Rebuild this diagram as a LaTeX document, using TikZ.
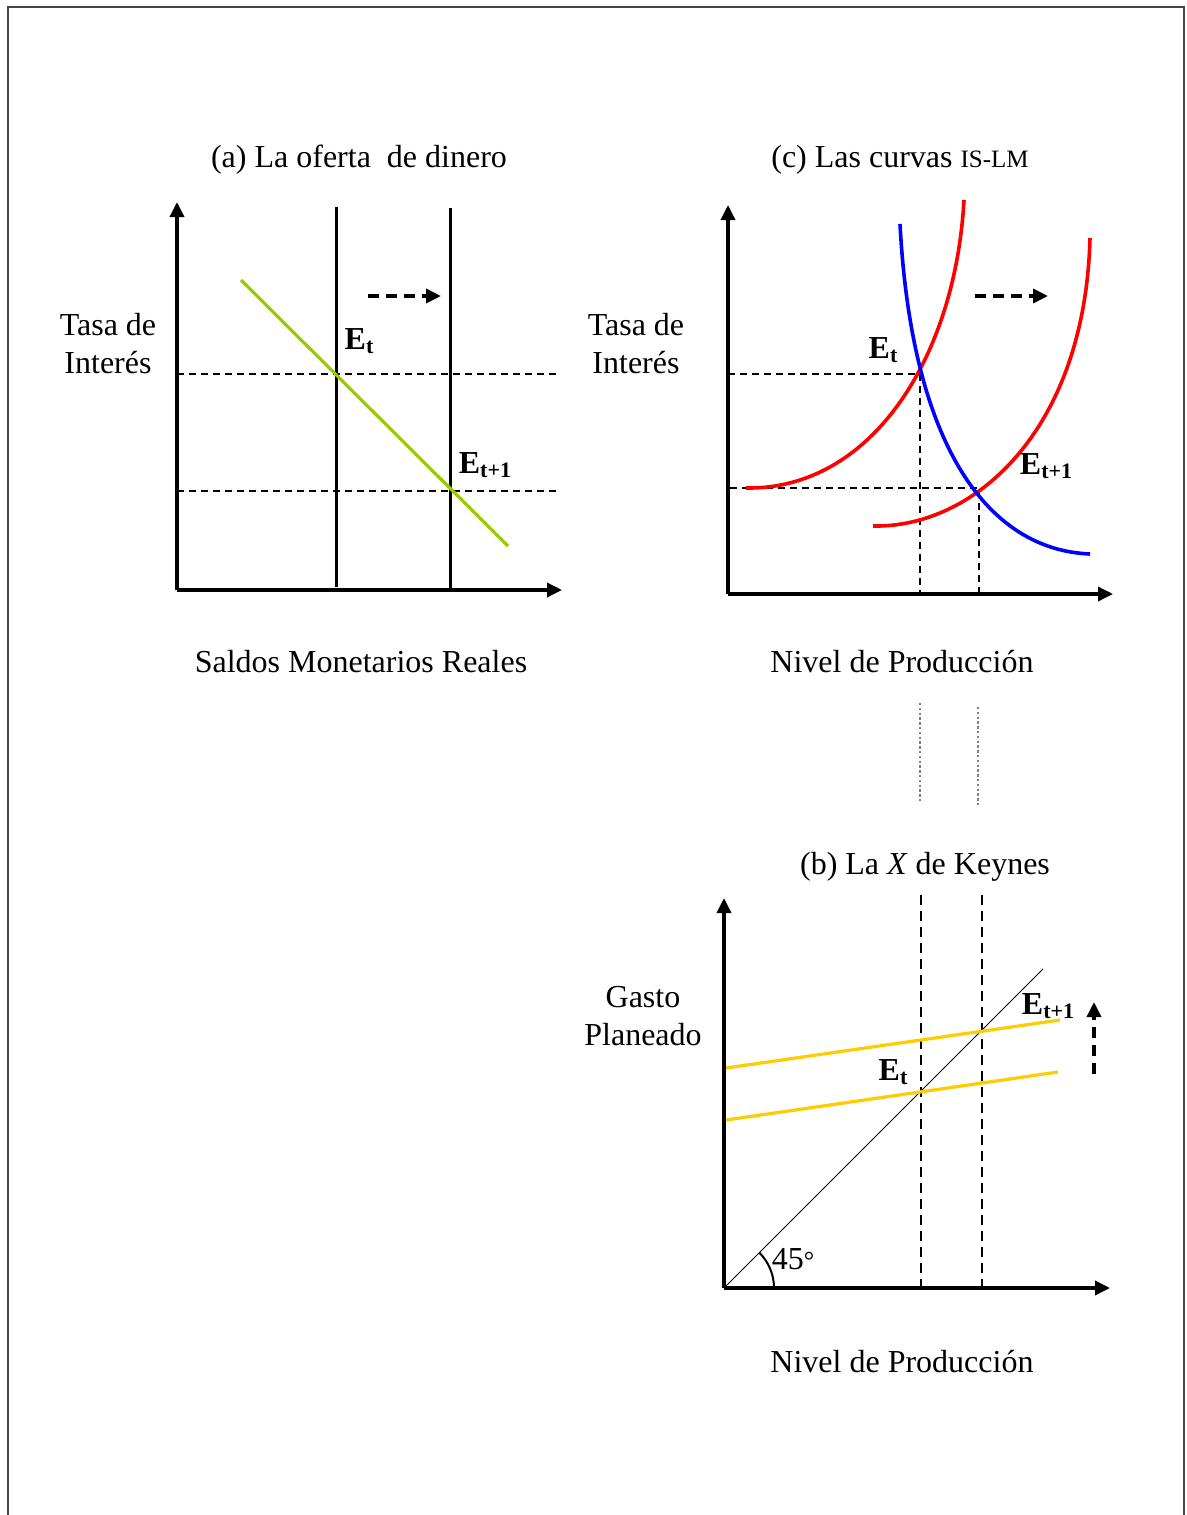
\documentclass[tikz,border=0pt]{standalone}
\usepackage{fontspec}
\setmainfont{Liberation Serif}
\usetikzlibrary{arrows.meta}
\definecolor{framegray}{RGB}{70,70,70}
\definecolor{msgreen}{RGB}{153,204,0}
\definecolor{msgold}{RGB}{255,204,0}
\newcommand{\Esub}[1]{\textbf{E}{\fontsize{11}{11}\selectfont\bfseries\raisebox{-0.45ex}{#1}}}
\begin{document}
\begin{tikzpicture}[x=0.5pt,y=-0.5pt,
  axis/.style={line width=1.7pt,-{Triangle[length=7.5pt,width=7pt]}},
  vline/.style={line width=1.5pt},
  guide/.style={line width=0.75pt,dash pattern=on 3.5pt off 2.5pt},
  guideb/.style={line width=1pt,dash pattern=on 5pt off 3pt},
  shiftarrow/.style={line width=1.8pt,dash pattern=on 5.5pt off 3.5pt,-{Triangle[length=7.5pt,width=7pt]}},
  lbl/.style={font=\fontsize{16}{19}\selectfont,align=center,inner sep=0pt},
  eq/.style={font=\fontsize{16}{19}\selectfont,inner sep=0pt},
  curve/.style={line width=1.8pt}]
\useasboundingbox (0,0) rectangle (1187,1515);
% frame
\draw[framegray,line width=1pt] (8,1515) -- (8,7) -- (1184,7) -- (1184,1515);

% ---------------- panel (a)
\node[lbl] (ta) at (359,160) {(a) La oferta\ \ de dinero};
\coordinate (aO) at (177,590);
\coordinate (aY) at (177,202);
\coordinate (aX) at (562,590);
\draw[guide] (177,374) coordinate (ag1) -- (558,374) coordinate (ag1e);
\draw[guide] (177,491) coordinate (ag2) -- (558,491) coordinate (ag2e);
\draw[vline] (336,207) coordinate (ms1t) -- (336,587) coordinate (ms1b);
\draw[vline] (450,208) coordinate (ms2t) -- (450,588) coordinate (ms2b);
\draw[msgreen,line width=1.6pt] (241,280) coordinate (md1) -- (508,546) coordinate (md2);
\draw[axis] (aO) -- (aY);
\draw[axis] (177,590) -- (aX);
\coordinate (aa1) at (368,296);
\coordinate (aa2) at (441,296);
\draw[shiftarrow] (aa1) -- (aa2);
\node[eq] (aEt) at (359,341) {\Esub{t}};
\node[eq] (aEt1) at (485,465) {\Esub{t+1}};
\node[lbl] (ayl) at (108,344) {Tasa de\\Interés};
\node[lbl] (axl) at (361,662) {Saldos Monetarios Reales};

% ---------------- panel (c)
\node[lbl] (tc) at (900,160) {(c) Las curvas {\fontsize{12.5}{15}\selectfont IS-LM}};
\coordinate (cO) at (728,594);
\coordinate (cY) at (728,205);
\coordinate (cX) at (1113,594);
\draw[guide] (728,374) -- (920,374) -- (920,594);
\draw[guide] (730,488) -- (979,488) -- (979,594);
\draw[red,curve] (746,488) .. controls (870,490) and (955,360) .. (964,200);
\draw[red,curve] (873,526) .. controls (975,528) and (1085,430) .. (1090,238);
\draw[blue,curve] (900,224) .. controls (912,450) and (990,550) .. (1090,554);
\draw[axis] (cO) -- (cY);
\draw[axis] (cO) -- (cX);
\coordinate (ca1) at (975,296);
\coordinate (ca2) at (1048,296);
\draw[shiftarrow] (ca1) -- (ca2);
\node[eq] (cEt) at (883,350) {\Esub{t}};
\node[eq] (cEt1) at (1046,466) {\Esub{t+1}};
\node[lbl] (cyl) at (636,344) {Tasa de\\Interés};
\node[lbl] (cxl) at (902,662) {Nivel de Producción};

% connecting dotted lines
\draw[gray,line width=0.7pt,dash pattern=on 1.2pt off 1.2pt] (920,703) coordinate (d1t) -- (920,803) coordinate (d1b);
\draw[gray,line width=0.7pt,dash pattern=on 1.2pt off 1.2pt] (978,707) coordinate (d2t) -- (978,806) coordinate (d2b);

% ---------------- panel (b)
\node[lbl] (tb) at (925,867) {(b) La \textit{X} de Keynes};
\coordinate (bO) at (724,1288);
\coordinate (bY) at (724,898);
\coordinate (bX) at (1110,1288);
\draw[guideb] (921,895) -- (921,1288);
\draw[guideb] (982,895) -- (982,1288);
\draw[line width=0.5pt] (bO) -- (1043,969) coordinate (b45);
\draw[msgold,line width=1.6pt] (726,1068) coordinate (ae1a) -- (1060,1020) coordinate (ae1b);
\draw[msgold,line width=1.6pt] (726,1120) coordinate (ae0a) -- (1058,1072) coordinate (ae0b);
\draw[line width=1pt] (774,1288) arc[start angle=0,end angle=45,radius=25pt];
\draw[axis] (bO) -- (bY);
\draw[axis] (bO) -- (bX);
\coordinate (ba1) at (1094,1074);
\coordinate (ba2) at (1094,1002);
\draw[shiftarrow] (ba1) -- (ba2);
\node[eq] (bEt) at (893,1072) {\Esub{t}};
\node[eq] (bEt1) at (1048,1006) {\Esub{t+1}};
\node[lbl] (b45l) at (793,1259) {45{\fontsize{13}{13}\selectfont °}};
\node[lbl] (byl) at (643,1016) {Gasto\\Planeado};
\node[lbl] (bxl) at (902,1362) {Nivel de Producción};
\end{tikzpicture}
\end{document}
